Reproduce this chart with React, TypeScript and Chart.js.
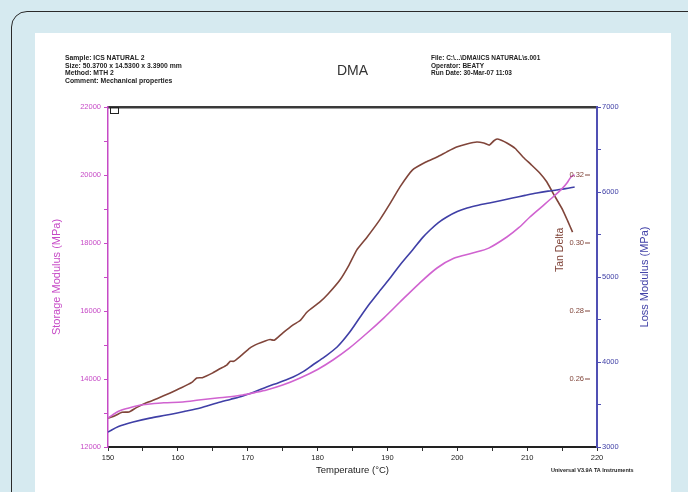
import React, { useEffect, useRef } from "react";
import { Chart, registerables } from "chart.js";

Chart.register(...registerables);

// ---------- data ----------
const storageTemps = [150.0, 151.5, 153.0, 154.5, 156.0, 158.0, 160.7, 163.0, 165.6, 167.5, 169.3, 171.0, 172.7, 175.0, 177.5, 180.0, 182.2, 184.5, 187.1, 189.5, 191.8, 194.5, 197.1, 199.5, 202.2, 204.5, 207.1, 208.8, 210.4, 212.0, 213.7, 215.0, 215.7, 216.3, 216.8];
const storageValues = [12850, 13050, 13150, 13230, 13265, 13300, 13324, 13380, 13441, 13480, 13529, 13600, 13676, 13820, 14029, 14280, 14559, 14900, 15353, 15800, 16265, 16800, 17265, 17550, 17706, 17850, 18176, 18450, 18765, 19050, 19353, 19600, 19765, 19950, 20000];

const lossTemps = [150.0, 151.5, 153.6, 156.0, 158.4, 161.0, 163.2, 165.6, 167.5, 169.3, 171.0, 172.7, 174.5, 176.5, 178.0, 179.3, 181.0, 182.8, 184.5, 186.1, 187.5, 189.0, 190.5, 191.8, 193.6, 195.0, 196.1, 197.3, 198.5, 200.0, 201.4, 203.0, 204.6, 206.3, 207.9, 209.7, 211.4, 213.0, 214.2, 215.5, 216.8];
const lossValues = [3176, 3240, 3294, 3340, 3376, 3420, 3459, 3518, 3560, 3600, 3650, 3706, 3760, 3824, 3890, 3965, 4060, 4176, 4340, 4529, 4690, 4847, 5000, 5141, 5318, 5460, 5553, 5640, 5706, 5770, 5812, 5845, 5871, 5900, 5929, 5960, 5988, 6010, 6024, 6040, 6059];

const tanTemps = [150.0, 151.0, 152.0, 153.0, 154.0, 155.5, 157.0, 158.9, 160.5, 162.0, 162.7, 163.5, 165.0, 166.0, 167.0, 167.5, 168.0, 169.0, 170.3, 171.5, 172.5, 173.2, 173.8, 175.0, 176.5, 177.5, 178.5, 180.3, 181.5, 183.2, 184.5, 185.6, 187.0, 188.9, 190.5, 191.8, 193.6, 195.5, 197.1, 198.5, 199.9, 201.5, 202.8, 203.8, 204.6, 205.2, 205.7, 206.3, 207.1, 208.3, 209.4, 210.6, 211.8, 212.8, 213.7, 214.4, 215.1, 215.8, 216.5];
const tanValues = [0.2485, 0.2492, 0.2502, 0.2503, 0.2515, 0.253, 0.2542, 0.2559, 0.2574, 0.259, 0.2603, 0.2604, 0.2618, 0.263, 0.2641, 0.2652, 0.2652, 0.2668, 0.2691, 0.2704, 0.2712, 0.2716, 0.2714, 0.2735, 0.2759, 0.2772, 0.2797, 0.2826, 0.285, 0.2891, 0.2935, 0.2979, 0.3015, 0.3068, 0.312, 0.3165, 0.3215, 0.3238, 0.3253, 0.3268, 0.3282, 0.3292, 0.3297, 0.3294, 0.3288, 0.33, 0.3306, 0.3302, 0.3294, 0.3278, 0.3253, 0.323, 0.3206, 0.318, 0.3147, 0.3122, 0.3097, 0.3065, 0.3032];

const tanTickValues = [0.26, 0.28, 0.3, 0.32];
const tanTickLabels = ["0.26", "0.28", "0.30", "0.32"];

const headerLeft = [
  "Sample: ICS NATURAL 2",
  "Size: 50.3700 x 14.5300 x 3.3900 mm",
  "Method: MTH 2",
  "Comment: Mechanical properties",
];
const headerRight = [
  "File: C:\\...\\DMA\\ICS NATURAL\\s.001",
  "Operator: BEATY",
  "Run Date: 30-Mar-07 11:03",
];

// ---------- styles ----------
const FAMILY = "'Liberation Sans', Arial, sans-serif";
const MAGENTA = "#d063d0";
const MAGENTA_AXIS = "#c64ac6";
const BLUE = "#3f3fa6";
const BLUE_AXIS = "#5050b4";
const BROWN = "#80453a";
const BG = "#d6eaf0";

const tanAxisPlugin = {
  id: "tanAxis",
  afterDraw(chart: any) {
    const s = chart.scales.y2;
    const ctx = chart.ctx as CanvasRenderingContext2D;
    const { left, right, top, bottom } = chart.chartArea;
    ctx.save();
    ctx.strokeStyle = BROWN;
    ctx.fillStyle = BROWN;
    ctx.lineWidth = 1;
    ctx.font = `7.5px ${FAMILY}`;
    ctx.textAlign = "right";
    ctx.textBaseline = "middle";
    tanTickValues.forEach((v, i) => {
      const y = s.getPixelForValue(v);
      ctx.beginPath();
      ctx.moveTo(right - 12, y);
      ctx.lineTo(right - 7, y);
      ctx.stroke();
      ctx.fillText(tanTickLabels[i], right - 13, y);
    });
    ctx.save();
    ctx.translate(right - 37, s.getPixelForValue(0.298));
    ctx.rotate(-Math.PI / 2);
    ctx.textAlign = "center";
    ctx.font = `10.5px ${FAMILY}`;
    ctx.fillText("Tan Delta", 0, 0);
    ctx.restore();
    ctx.save();
    ctx.translate(right + 48, (top + bottom) / 2);
    ctx.rotate(-Math.PI / 2);
    ctx.textAlign = "center";
    ctx.fillStyle = BLUE;
    ctx.font = `11px ${FAMILY}`;
    ctx.fillText("Loss Modulus (MPa)", 0, 0);
    ctx.restore();
    ctx.strokeStyle = "#222";
    ctx.lineWidth = 1;
    ctx.strokeRect(left + 2.5, top + 0.5, 8, 6);
    ctx.restore();
  },
};

export default function App() {
  const ref = useRef<HTMLCanvasElement>(null);

  useEffect(() => {
    const canvas = ref.current;
    if (!canvas) return;
    const chart = new Chart(canvas, {
      type: "line",
      data: {
        datasets: [
          {
            label: "Storage Modulus",
            data: storageTemps.map((t, i) => ({ x: t, y: storageValues[i] })),
            yAxisID: "y",
            borderColor: MAGENTA,
            borderWidth: 1.6,
            pointRadius: 0,
            tension: 0.3,
          },
          {
            label: "Loss Modulus",
            data: lossTemps.map((t, i) => ({ x: t, y: lossValues[i] })),
            yAxisID: "y1",
            borderColor: BLUE,
            borderWidth: 1.6,
            pointRadius: 0,
            tension: 0.3,
          },
          {
            label: "Tan Delta",
            data: tanTemps.map((t, i) => ({ x: t, y: tanValues[i] })),
            yAxisID: "y2",
            borderColor: BROWN,
            borderWidth: 1.6,
            pointRadius: 0,
            tension: 0.15,
          },
        ],
      },
      options: {
        responsive: false,
        animation: false,
        layout: { padding: { top: 74, left: 0, right: 0, bottom: 0 } },
        plugins: { legend: { display: false }, tooltip: { enabled: false } },
        scales: {
          x: {
            type: "linear",
            position: "bottom",
            min: 150,
            max: 220,
            ticks: {
              stepSize: 5,
              autoSkip: false,
              maxRotation: 0,
              padding: 2,
              color: "#222",
              font: { size: 7.5, family: FAMILY },
              callback: (v: any) => (Number(v) % 10 === 0 ? String(v) : ""),
            },
            grid: { drawOnChartArea: false, drawTicks: true, tickLength: 4, color: "#333" },
            border: { color: "#222", width: 2 },
            title: {
              display: true,
              text: "Temperature (°C)",
              color: "#222",
              font: { size: 9.5, family: FAMILY },
              padding: { top: 0, bottom: 16 },
            },
            afterFit: (s: any) => {
              s.height = 45;
            },
          },
          x2: {
            type: "linear",
            position: "top",
            min: 150,
            max: 220,
            ticks: { display: false },
            grid: { display: false, drawTicks: false },
            border: { display: true, color: "#3a3a3a", width: 2.5 },
            afterFit: (s: any) => {
              s.height = 0;
            },
          },
          y: {
            type: "linear",
            position: "left",
            min: 12000,
            max: 22000,
            ticks: {
              stepSize: 1000,
              autoSkip: false,
              padding: 3,
              color: MAGENTA_AXIS,
              font: { size: 7.5, family: FAMILY },
              callback: (v: any) => (Number(v) % 2000 === 0 ? String(v) : ""),
            },
            grid: { drawOnChartArea: false, drawTicks: true, tickLength: 4, color: MAGENTA_AXIS },
            border: { color: MAGENTA_AXIS, width: 1.5 },
            title: {
              display: true,
              text: "Storage Modulus (MPa)",
              color: MAGENTA_AXIS,
              font: { size: 11, family: FAMILY },
              padding: { top: 15, bottom: 0 },
            },
            afterFit: (s: any) => {
              s.width = 73;
            },
          },
          y1: {
            type: "linear",
            position: "right",
            min: 3000,
            max: 7000,
            ticks: {
              stepSize: 500,
              autoSkip: false,
              padding: 1,
              color: BLUE,
              font: { size: 7.5, family: FAMILY },
              callback: (v: any) => (Number(v) % 1000 === 0 ? String(v) : ""),
            },
            grid: { drawOnChartArea: false, drawTicks: true, tickLength: 4, color: BLUE_AXIS },
            border: { color: BLUE_AXIS, width: 2 },
            afterFit: (s: any) => {
              s.width = 74;
            },
          },
          y2: {
            type: "linear",
            display: false,
            min: 0.24,
            max: 0.34,
          },
        },
      },
      plugins: [tanAxisPlugin],
    } as any);
    return () => chart.destroy();
  }, []);

  const small: React.CSSProperties = {
    position: "absolute",
    fontFamily: FAMILY,
    fontSize: 6.8,
    fontWeight: "bold",
    lineHeight: "7.5px",
    color: "#222",
    whiteSpace: "nowrap",
  };

  return (
    <div
      style={{
        position: "fixed",
        left: 0,
        top: 0,
        width: 688,
        height: 492,
        overflow: "hidden",
        background: BG,
      }}
    >
      <div
        style={{
          position: "absolute",
          left: 11,
          top: 11,
          width: 720,
          height: 540,
          border: "1.5px solid #2a2a2a",
          borderRadius: 16,
          background: BG,
        }}
      />
      <div
        style={{
          position: "absolute",
          left: 35,
          top: 33,
          width: 636,
          height: 470,
          background: "#ffffff",
        }}
      />
      <canvas
        ref={ref}
        width={636}
        height={459}
        style={{ position: "absolute", left: 35, top: 33, width: 636, height: 459, display: "block" }}
      />
      <div style={{ ...small, left: 65, top: 54 }}>
        {headerLeft.map((t) => (
          <div key={t}>{t}</div>
        ))}
      </div>
      <div style={{ ...small, left: 431, top: 54, fontSize: 6.5 }}>
        {headerRight.map((t) => (
          <div key={t}>{t}</div>
        ))}
      </div>
      <div
        style={{
          position: "absolute",
          left: 337,
          top: 62,
          fontFamily: FAMILY,
          fontSize: 14,
          color: "#333",
          whiteSpace: "nowrap",
        }}
      >
        DMA
      </div>
      <div style={{ ...small, left: 551, top: 467, fontSize: 5.5 }}>Universal V3.9A TA Instruments</div>
    </div>
  );
}
